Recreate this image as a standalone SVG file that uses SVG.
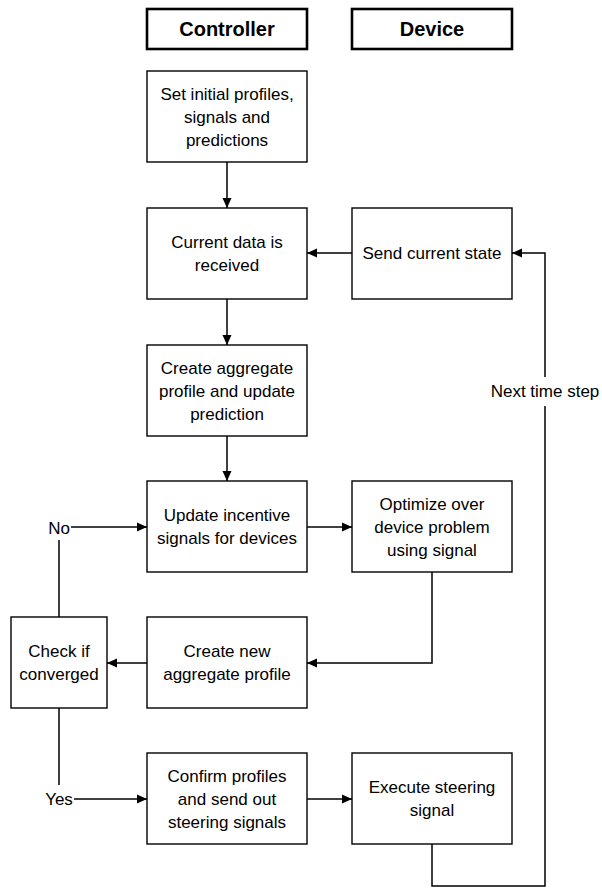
<svg xmlns="http://www.w3.org/2000/svg" width="602" height="888" viewBox="0 0 602 888">
<defs>
<marker id="ah" markerWidth="10" markerHeight="10" refX="10" refY="5" orient="auto" markerUnits="userSpaceOnUse">
<path d="M0,0.5 L10,5 L0,9.5 Z" fill="#000"/>
</marker>
<style>
.box{fill:#fff;stroke:#000;stroke-width:1.4}
.hdr{fill:#fff;stroke:#000;stroke-width:2.6}
.t{font-family:"Liberation Sans",Arial,sans-serif;font-size:17px;fill:#000;text-anchor:middle}
.h{font-family:"Liberation Sans",Arial,sans-serif;font-size:20px;font-weight:bold;fill:#000;text-anchor:middle}
.c{fill:none;stroke:#000;stroke-width:1.5}
</style>
</defs>
<rect width="602" height="888" fill="#fff"/>
<g id="connectors">
<path class="c" d="M227,162 V208" marker-end="url(#ah)"/>
<path class="c" d="M352,253 H307" marker-end="url(#ah)"/>
<path class="c" d="M227,299 V345" marker-end="url(#ah)"/>
<path class="c" d="M227,436 V481" marker-end="url(#ah)"/>
<path class="c" d="M307,527 H352" marker-end="url(#ah)"/>
<path class="c" d="M432,572 V663 H307" marker-end="url(#ah)"/>
<path class="c" d="M147,663 H107" marker-end="url(#ah)"/>
<path class="c" d="M59,617 V540"/>
<path class="c" d="M71,527 H147" marker-end="url(#ah)"/>
<path class="c" d="M59,708 V785"/>
<path class="c" d="M74,799 H147" marker-end="url(#ah)"/>
<path class="c" d="M307,799 H352" marker-end="url(#ah)"/>
<path class="c" d="M432,844 V886 H545 V406"/>
<path class="c" d="M545,377 V253 H512" marker-end="url(#ah)"/>
<text class="t" x="59" y="534">No</text>
<text class="t" x="59" y="805">Yes</text>
<text class="t" x="545" y="397">Next time step</text>
</g>
<g id="hdr-controller"><rect class="hdr" x="147" y="9" width="160" height="40"/><text class="h" x="227" y="36">Controller</text></g>
<g id="hdr-device"><rect class="hdr" x="352" y="9" width="160" height="40"/><text class="h" x="432" y="36">Device</text></g>
<g id="n-set"><rect class="box" x="147" y="71" width="160" height="91"/><text class="t" x="227" y="100">Set initial profiles,</text><text class="t" x="227" y="123">signals and</text><text class="t" x="227" y="146">predictions</text></g>
<g id="n-current"><rect class="box" x="147" y="208" width="160" height="91"/><text class="t" x="227" y="248">Current data is</text><text class="t" x="227" y="271">received</text></g>
<g id="n-send"><rect class="box" x="352" y="208" width="160" height="91"/><text class="t" x="432" y="259">Send current state</text></g>
<g id="n-aggregate"><rect class="box" x="147" y="345" width="160" height="91"/><text class="t" x="227" y="374">Create aggregate</text><text class="t" x="227" y="397">profile and update</text><text class="t" x="227" y="420">prediction</text></g>
<g id="n-update"><rect class="box" x="147" y="481" width="160" height="91"/><text class="t" x="227" y="521">Update incentive</text><text class="t" x="227" y="544">signals for devices</text></g>
<g id="n-optimize"><rect class="box" x="352" y="481" width="160" height="91"/><text class="t" x="432" y="510">Optimize over</text><text class="t" x="432" y="533">device problem</text><text class="t" x="432" y="556">using signal</text></g>
<g id="n-check"><rect class="box" x="11" y="617" width="96" height="91"/><text class="t" x="59" y="657">Check if</text><text class="t" x="59" y="680">converged</text></g>
<g id="n-newagg"><rect class="box" x="147" y="617" width="160" height="91"/><text class="t" x="227" y="657">Create new</text><text class="t" x="227" y="680">aggregate profile</text></g>
<g id="n-confirm"><rect class="box" x="147" y="753" width="160" height="91"/><text class="t" x="227" y="782">Confirm profiles</text><text class="t" x="227" y="805">and send out</text><text class="t" x="227" y="828">steering signals</text></g>
<g id="n-execute"><rect class="box" x="352" y="753" width="160" height="91"/><text class="t" x="432" y="793">Execute steering</text><text class="t" x="432" y="816">signal</text></g>
</svg>
